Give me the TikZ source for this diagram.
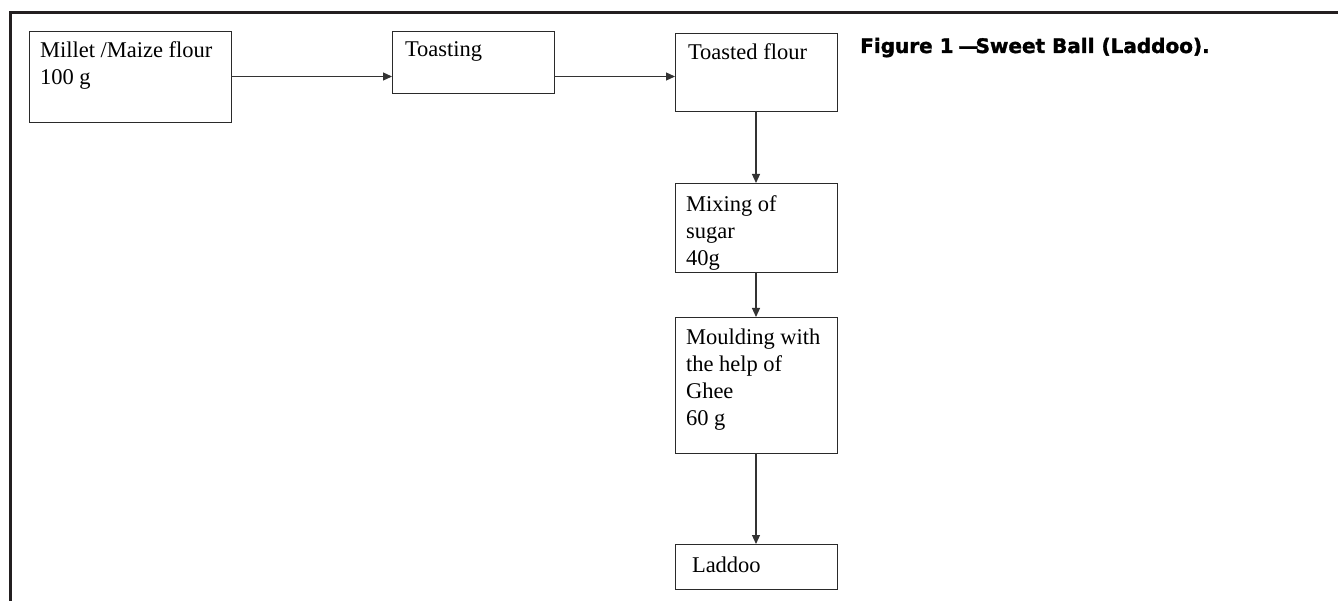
\documentclass[tikz,border=0pt]{standalone}
\usepackage{fontspec}
\setmainfont{Liberation Serif}
\newfontfamily\titlefont[FakeBold=1.6]{DejaVu Sans}
\usetikzlibrary{arrows.meta}
\definecolor{framecol}{HTML}{231F20}
\definecolor{boxcol}{HTML}{2A2A2A}
\definecolor{arrcol}{HTML}{333333}
\newcommand{\firstline}{\rule{0pt}{20pt}}
\tikzset{
  box/.style={draw=boxcol, line width=0.95pt, inner sep=0pt, outer sep=0pt, anchor=north west},
  txt/.style={inner sep=0pt, outer sep=0pt, anchor=north west, align=left,
    font=\fontsize{22.5}{27}\selectfont},
  flow/.style={draw=arrcol, line width=1.2pt, -{Triangle[length=9pt,width=8pt]}},
  frameline/.style={draw=framecol, line width=2.2pt},
}
\begin{document}
\begin{tikzpicture}[x=1pt,y=-1pt]
\useasboundingbox (0,0) rectangle (1338,601);
% frame
\coordinate (fl) at (10.5,601);
\coordinate (fc) at (10.5,12.5);
\coordinate (fr) at (1338,12.5);
\draw[frameline] (fl) -- (fc) -- (fr);
% boxes
\node[box, minimum width=202pt, minimum height=91pt] (b1) at (29,31) {};
\node[box, minimum width=162pt, minimum height=62pt] (b2) at (392,31) {};
\node[box, minimum width=162pt, minimum height=78pt] (b3) at (675,33) {};
\node[box, minimum width=162pt, minimum height=89pt] (b4) at (675,183) {};
\node[box, minimum width=162pt, minimum height=136pt] (b5) at (675,317) {};
\node[box, minimum width=162pt, minimum height=45pt] (b6) at (675,544) {};
% texts (first baseline 20pt below node top)
\node[txt] (t1) at ([xshift=11pt,yshift=-7pt]b1.north west) {\firstline Millet /Maize flour\\100 g};
\node[txt] (t2) at ([xshift=13pt,yshift=-6pt]b2.north west) {\firstline Toasting};
\node[txt] (t3) at ([xshift=13pt,yshift=-7pt]b3.north west) {\firstline Toasted flour};
\node[txt] (t4) at ([xshift=11pt,yshift=-9pt]b4.north west) {\firstline Mixing of\\sugar\\40g};
\node[txt] (t5) at ([xshift=11pt,yshift=-7pt]b5.north west) {\firstline Moulding with\\the help of\\Ghee\\60 g};
\node[txt] (t6) at ([xshift=17pt,yshift=-8pt]b6.north west) {\firstline Laddoo};
% title
\node[inner sep=0pt, anchor=base west] (title) at (860,53)
  {\titlefont\bfseries\fontsize{20}{24}\selectfont Figure 1 \kern-2pt—\kern-3pt Sweet Ball (Laddoo).};
% connectors
\draw[flow] (b1.east |- 0,76.5) -- (b2.west |- 0,76.5);
\draw[flow] (b2.east |- 0,76.5) -- (b3.west |- 0,76.5);
\draw[flow] (b3.south) -- (b4.north);
\draw[flow] (b4.south) -- (b5.north);
\draw[flow] (b5.south) -- (b6.north);
\end{tikzpicture}
\end{document}
